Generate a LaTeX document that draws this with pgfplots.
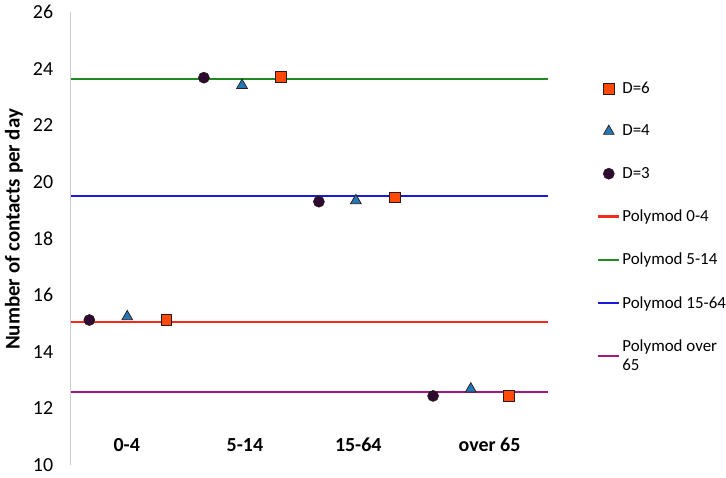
\documentclass[border=0pt]{standalone}
\usepackage{fontspec}
\setmainfont{Carlito}
\usepackage{pgfplots}
\pgfplotsset{compat=1.18}
\definecolor{pmred}{HTML}{F42A1C}
\definecolor{pmgreen}{HTML}{1F8A1F}
\definecolor{pmblue}{HTML}{1A1ADC}
\definecolor{pmpurple}{HTML}{A3177F}
\definecolor{sqfill}{HTML}{FF4A0A}
\definecolor{trifill}{HTML}{2277B5}
\definecolor{cirfill}{HTML}{2E0B30}
\definecolor{edge}{HTML}{2A1A1A}

\begin{document}
\begin{tikzpicture}
  \begin{axis}[
    scale only axis,
    width=477.3bp, height=453bp,
    xmin=0, xmax=4, ymin=10, ymax=26,
    ytick={10,12,...,26},
    xtick={0.47,1.46,2.41,3.51},
    xticklabels={0-4,5-14,15-64,over 65},
    /pgf/number format/assume math mode=true,
    major tick length=0pt,
    axis y line*=left,
    axis x line*=bottom,
    y axis line style={draw=black!20, line width=0.8bp},
    x axis line style={draw=none},
    yticklabel style={font=\fontsize{20}{22}\selectfont, xshift=-14bp},
    xticklabel style={font=\fontsize{20}{22}\selectfont\bfseries,
                      anchor=center, yshift=20bp},
    ylabel={Number of contacts per day},
    y label style={font=\fontsize{21}{23}\selectfont\bfseries,
                   at={(axis description cs:-0.119,0.52)}, anchor=center},
    clip=false,
    reverse legend,
    legend image code/.code={%
      \draw[mark repeat=2,mark phase=2,#1]
        plot coordinates {(0bp,0bp) (10.5bp,0bp) (21bp,0bp)};},
    legend style={at={(axis description cs:1,1)}, anchor=north west,
                  xshift=47bp, yshift=-66bp, draw=none, fill=none,
                  font=\fontsize{17}{19.5}\selectfont,
                  row sep=26bp, cells={anchor=west, align=left},
                  inner xsep=2bp},
  ]
    %% Polymod reference lines (added in reverse for the legend order)
    \addplot[pmpurple, line width=2.2bp] coordinates {(0,12.57) (4,12.57)};
    \addlegendentry{Polymod over\\65}
    \addplot[pmblue, line width=2.2bp] coordinates {(0,19.50) (4,19.50)};
    \addlegendentry{Polymod 15-64}
    \addplot[pmgreen, line width=2.2bp] coordinates {(0,23.63) (4,23.63)};
    \addlegendentry{Polymod 5-14}
    \addplot[pmred, line width=2.2bp] coordinates {(0,15.06) (4,15.06)};
    \addlegendentry{Polymod 0-4}

    %% model estimates
    \addplot[only marks, mark=*, mark size=5.5bp,
             mark options={fill=cirfill, draw=edge, line width=0.6bp}]
      coordinates {(0.156,15.12) (1.116,23.68) (2.080,19.30) (3.037,12.44)};
    \addlegendentry{D=3}
    \addplot[only marks, mark=triangle*, mark size=6.2bp,
             mark options={fill=trifill, draw=edge, line width=0.7bp}]
      coordinates {(0.474,15.24) (1.436,23.41) (2.390,19.34) (3.353,12.69)};
    \addlegendentry{D=4}
    \addplot[only marks, mark=square*, mark size=5.3bp,
             mark options={fill=sqfill, draw=edge, line width=0.7bp}]
      coordinates {(0.800,15.13) (1.759,23.70) (2.716,19.45) (3.673,12.44)};
    \addlegendentry{D=6}
  \end{axis}
  \pgfresetboundingbox
  \path (current axis.south west) ++(-70.7bp,-13bp) rectangle ++(726bp,478bp);
\end{tikzpicture}
\end{document}
